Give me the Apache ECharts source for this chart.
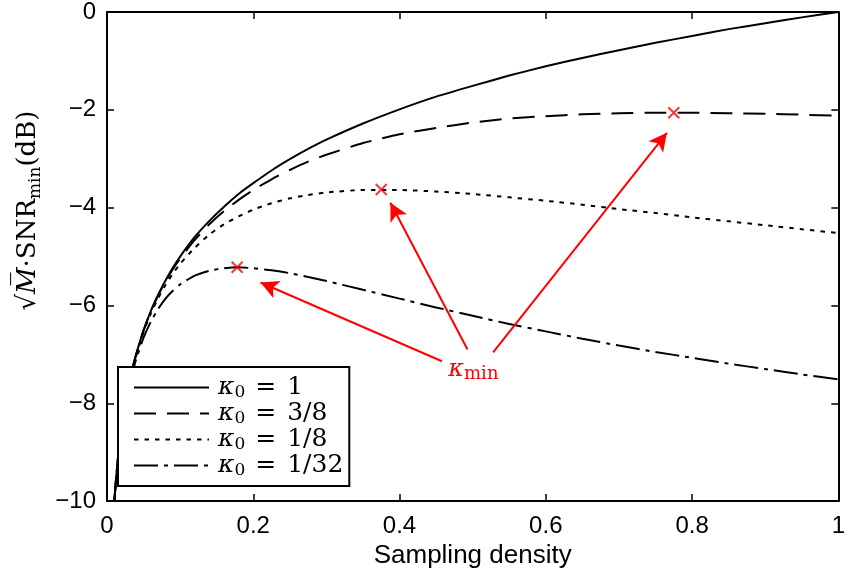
<!DOCTYPE html>
<html>
<head>
<meta charset="utf-8">
<script src="https://cdn.jsdelivr.net/npm/echarts@6/dist/echarts.min.js"></script>
<style>
  html, body { margin: 0; padding: 0; background: #fff; }
  #chart { width: 848px; height: 574px; }
</style>
</head>
<body>
<div id="chart"></div>
<script>
// Sampling density (x) and normalised minimum SNR in dB for four kappa_0 values
const density = [0.01, 0.0125, 0.015, 0.0175, 0.02, 0.025, 0.03, 0.035, 0.04, 0.05, 0.06, 0.07, 0.08, 0.09, 0.1,
  0.12, 0.14, 0.16, 0.18, 0.2, 0.225, 0.25, 0.275, 0.3, 0.35, 0.4, 0.45, 0.5,
  0.55, 0.6, 0.65, 0.7, 0.75, 0.8, 0.85, 0.9, 0.95, 1.0];
const snrKappa1 = [-10, -9.52, -9.12, -8.79, -8.50, -8.01, -7.61, -7.28, -6.99, -6.51, -6.11, -5.78, -5.49, -5.23, -5.00,
  -4.60, -4.27, -3.98, -3.72, -3.50, -3.24, -3.01, -2.80, -2.61, -2.28, -1.99, -1.73, -1.51,
  -1.30, -1.11, -0.94, -0.78, -0.63, -0.49, -0.35, -0.23, -0.11, 0];
const snrKappa3_8 = [-10, -9.52, -9.12, -8.79, -8.50, -8.01, -7.62, -7.28, -7.00, -6.51, -6.12, -5.79, -5.51, -5.26, -5.04,
  -4.66, -4.34, -4.07, -3.84, -3.64, -3.42, -3.23, -3.06, -2.92, -2.68, -2.50, -2.37, -2.26,
  -2.18, -2.13, -2.09, -2.07, -2.06, -2.06, -2.07, -2.08, -2.10, -2.12];
const snrKappa1_8 = [-10, -9.52, -9.12, -8.79, -8.50, -8.02, -7.63, -7.30, -7.02, -6.54, -6.16, -5.85, -5.58, -5.35, -5.15,
  -4.82, -4.55, -4.34, -4.18, -4.04, -3.91, -3.81, -3.74, -3.69, -3.64, -3.64, -3.67, -3.72,
  -3.79, -3.86, -3.94, -4.03, -4.11, -4.20, -4.28, -4.36, -4.44, -4.52];
const snrKappa1_32 = [-10.01, -9.53, -9.13, -8.81, -8.52, -8.05, -7.67, -7.36, -7.09, -6.66, -6.33, -6.07, -5.86, -5.70, -5.57,
  -5.39, -5.29, -5.24, -5.22, -5.24, -5.28, -5.34, -5.42, -5.50, -5.68, -5.86, -6.04, -6.21,
  -6.38, -6.53, -6.68, -6.82, -6.95, -7.07, -7.19, -7.30, -7.41, -7.51];

// Maximum of each curve with kappa_0 < 1 (kappa_min)
const kappaMinX = [0.178, 0.375, 0.775];
const kappaMinY = [-5.22, -3.63, -2.06];

const seriesNames = ['κ0 = 1', 'κ0 = 3/8', 'κ0 = 1/8', 'κ0 = 1/32'];
const seriesValues = [snrKappa1, snrKappa3_8, snrKappa1_8, snrKappa1_32];
const legendValues = ['1', '3/8', '1/8', '1/32'];

const dashStyles = ['solid', [22, 11], [4.5, 6], [24, 6, 4, 6]];

const SERIF = '"DejaVu Serif", "Liberation Serif", serif';
const SANS = '"Liberation Sans", Arial, sans-serif';
const minus = v => String(v).replace('-', '\u2212');

const lineSeries = seriesNames.map((name, i) => ({
  name,
  type: 'line',
  data: density.map((x, j) => [x, seriesValues[i][j]]),
  smooth: 0.2,
  symbol: 'none',
  clip: true,
  lineStyle: { color: '#000', width: 2, type: dashStyles[i] },
  itemStyle: { color: '#000' },
  z: 3
}));

const chart = echarts.init(document.getElementById('chart'), null, { renderer: 'canvas' });

const frameAxis = {
  axisLine: { show: true, onZero: false, lineStyle: { color: '#000', width: 2 } },
  axisTick: { show: true, inside: true, length: 7, lineStyle: { color: '#000', width: 1.5 } },
  splitLine: { show: false }
};

const option = {
  animation: false,
  backgroundColor: '#fff',
  grid: { left: 107, right: 3, top: 12, bottom: 72, containLabel: false },
  xAxis: [
    Object.assign({
      type: 'value', min: 0, max: 1, interval: 0.2,
      name: 'Sampling density', nameLocation: 'middle', nameGap: 37,
      nameTextStyle: { fontFamily: SANS, fontSize: 26, color: '#000' },
      axisLabel: { fontFamily: SANS, fontSize: 24, color: '#000', margin: 13 }
    }, frameAxis),
    Object.assign({
      type: 'value', min: 0, max: 1, interval: 0.2, position: 'top',
      axisLabel: { show: false }
    }, frameAxis)
  ],
  yAxis: [
    Object.assign({
      type: 'value', min: -10, max: 0, interval: 2,
      name: '{r|√}{i|M\u0305}{r|·SNR}{s|min}{r|(dB)}',
      nameLocation: 'middle', nameRotate: 90, nameGap: 56,
      nameTextStyle: {
        color: '#000',
        padding: [0, 0, 0, 92],
        rich: {
          r: { fontFamily: SERIF, fontSize: 26, lineHeight: 32, color: '#000' },
          i: { fontFamily: SERIF, fontSize: 26, fontStyle: 'italic', lineHeight: 32, color: '#000' },
          s: { fontFamily: SERIF, fontSize: 17, lineHeight: 17, verticalAlign: 'bottom', color: '#000' }
        }
      },
      axisLabel: { fontFamily: SANS, fontSize: 24, color: '#000', margin: 11, formatter: minus }
    }, frameAxis),
    Object.assign({
      type: 'value', min: -10, max: 0, interval: 2, position: 'right',
      axisLabel: { show: false }
    }, frameAxis)
  ],
  legend: {
    orient: 'vertical',
    left: 118, top: 367,
    padding: [8, 6, 7, 15],
    itemGap: 0,
    itemWidth: 75, itemHeight: 14,
    backgroundColor: '#fff',
    borderColor: '#000', borderWidth: 2, borderRadius: 0,
    itemStyle: { opacity: 0 },
    lineStyle: { width: 2 },
    data: seriesNames,
    formatter: name => '{k|κ}{s|0}{e|=}{v|' + legendValues[seriesNames.indexOf(name)] + '}',
    textStyle: {
      rich: {
        k: { fontFamily: SERIF, fontSize: 25, fontStyle: 'italic', lineHeight: 27, padding: [0, 0, 0, 4], color: '#000' },
        s: { fontFamily: SERIF, fontSize: 17, lineHeight: 13, verticalAlign: 'bottom', color: '#000' },
        e: { fontFamily: SERIF, fontSize: 25, lineHeight: 27, padding: [0, 11, 0, 10], color: '#000' },
        v: { fontFamily: SERIF, fontSize: 25, lineHeight: 27, color: '#000' }
      }
    }
  },
  series: [
    ...lineSeries,
    {
      name: 'kappa-min',
      type: 'scatter',
      data: kappaMinX.map((x, i) => [x, kappaMinY[i]]),
      symbol: 'path://M0 0L10 10M10 0L0 10',
      symbolSize: 11,
      itemStyle: { color: 'transparent', borderColor: '#ff0000', borderWidth: 2 },
      z: 5,
      markLine: {
        silent: true,
        symbol: ['none', 'arrow'],
        symbolSize: [14, 18],
        label: { show: false },
        lineStyle: { color: '#ff0000', width: 2, type: 'solid' },
        data: [
          [{ coord: [0.458, -7.14] }, { coord: [0.210, -5.53] }],
          [{ coord: [0.493, -6.90] }, { coord: [0.3875, -3.90] }],
          [{ coord: [0.528, -6.96] }, { coord: [0.7656, -2.47] }]
        ]
      },
      markPoint: {
        silent: true,
        symbol: 'circle',
        symbolSize: 0,
        data: [{ coord: [0.501, -7.31] }],
        label: {
          show: true,
          position: 'inside',
          formatter: '{k|κ}{s|min}',
          rich: {
            k: { fontFamily: SERIF, fontSize: 24, fontStyle: 'italic', lineHeight: 28, color: '#ff0000' },
            s: { fontFamily: SERIF, fontSize: 18, lineHeight: 18, verticalAlign: 'bottom', color: '#ff0000' }
          }
        }
      }
    }
  ]
};

chart.setOption(option);
</script>
</body>
</html>
